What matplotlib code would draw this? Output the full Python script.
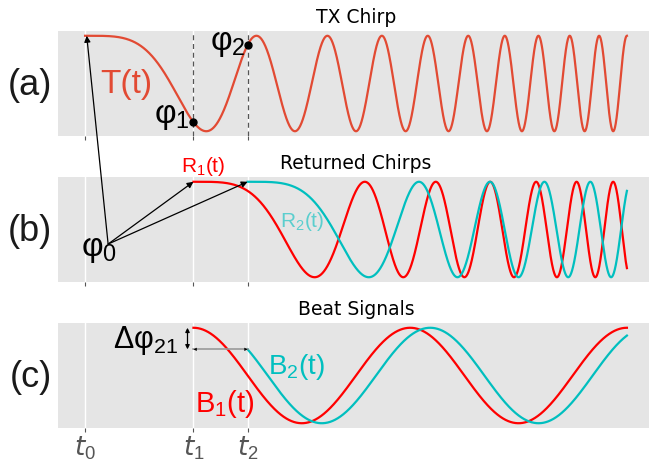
import numpy as np
import matplotlib
matplotlib.use("Agg")
import matplotlib.pyplot as plt

# time marks and their labels
T_MARKS = [0.0, 0.2, 0.3]
T_LABELS = [r"$t_0$", r"$t_1$", r"$t_2$"]
T_END = 1.0

# chirp: instantaneous frequency rises linearly, phase = pi * rate * t^2
CHIRP_RATE = 20.0
# beat signals
BEAT_FREQ = 2.5
BEAT2_LAG = 0.58  # rad, phase offset of B2 relative to B1

PANEL_TITLES = ["TX Chirp", "Returned Chirps", "Beat Signals"]
PANEL_TAGS = ["(a)", "(b)", "(c)"]

TX_COLOR = "#E24A33"
R1_COLOR = "red"
R2_COLOR = "c"
BG = "#E5E5E5"
GREY = "#555555"
ANNOT_FONT = "Liberation Sans"

plt.rcParams["mathtext.fontset"] = "custom"
plt.rcParams["mathtext.rm"] = "Liberation Sans"
plt.rcParams["mathtext.it"] = "DejaVu Sans:italic"
plt.rcParams["mathtext.bf"] = "Liberation Sans:bold"

t0, t1, t2 = T_MARKS


def chirp(t, start):
    return np.cos(np.pi * CHIRP_RATE * (t - start) ** 2)


def beat(t, lag=0.0):
    return np.cos(2 * np.pi * BEAT_FREQ * (t - t1) - lag)


fig = plt.figure(figsize=(6.49, 4.70), dpi=100)
W, H = 649.0, 470.0
left, right = 58 / W, 654 / W
tops = [31, 177, 323]
ph = 105
axes = []
for top in tops:
    ax = fig.add_axes([left, 1 - (top + ph) / H, right - left, ph / H])
    ax.set_facecolor(BG)
    for s in ax.spines.values():
        s.set_visible(False)
    ax.set_xlim(-0.05, 1.05)
    ax.set_ylim(-1.1, 1.1)
    ax.set_xticks(T_MARKS)
    ax.set_xticklabels([])
    ax.set_yticks([])
    ax.tick_params(axis="x", length=3, color=GREY, width=0.8)
    ax.grid(True, axis="x", color="white", lw=1.0)
    ax.set_axisbelow(True)
    axes.append(ax)
ax_a, ax_b, ax_c = axes

for ax, title, tag in zip(axes, PANEL_TITLES, PANEL_TAGS):
    ax.set_title(title, fontsize=13.5, pad=6)
    ax.text(-0.01, 0.48, tag, transform=ax.transAxes, ha="right", va="center",
            fontsize=26, family=ANNOT_FONT, color="#1a1a1a")

ax_c.set_xticklabels(T_LABELS, fontsize=19, color=GREY)
ax_c.tick_params(axis="x", pad=2)

# (a) TX chirp
ta = np.linspace(t0, T_END, 3000)
ax_a.plot(ta, chirp(ta, t0), color=TX_COLOR, lw=1.6)
for tm in (t1, t2):
    ax_a.axvline(tm, color=GREY, lw=0.9, ls=(0, (4, 3)))
ax_a.plot([t1, t2], [chirp(t1, t0), chirp(t2, t0)], "o", color="black", ms=5, zorder=5)
ax_a.text(0.076, -0.02, "T(t)", color=TX_COLOR, fontsize=24, family=ANNOT_FONT,
          ha="center", va="center")
ax_a.text(t1 - 0.006, chirp(t1, t0) + 0.12, r"φ$_1$", fontsize=24, family=ANNOT_FONT,
          ha="right", va="center")
ax_a.text(t2 - 0.004, chirp(t2, t0) + 0.02, r"φ$_2$", fontsize=24, family=ANNOT_FONT,
          ha="right", va="center")

# (b) returned chirps
tb1 = np.linspace(t1, T_END, 3000)
tb2 = np.linspace(t2, T_END, 3000)
ax_b.plot(tb1, chirp(tb1, t1), color=R1_COLOR, lw=1.6)
ax_b.plot(tb2, chirp(tb2, t2), color=R2_COLOR, lw=1.6)
ax_b.text(0.218, 1.31, r"R$_1$(t)", color=R1_COLOR, fontsize=15, family=ANNOT_FONT,
          ha="center", va="center")
ax_b.text(0.401, 0.16, r"R$_2$(t)", color=R2_COLOR, alpha=0.6, fontsize=15,
          family=ANNOT_FONT, ha="center", va="center")
ax_b.text(0.026, -0.42, r"φ$_0$", fontsize=24, family=ANNOT_FONT,
          ha="center", va="center")

origin = (0.0425, -0.305)
arrow = dict(arrowstyle="-|>", color="black", lw=0.9, mutation_scale=9,
             shrinkA=0, shrinkB=0)
ax_b.annotate("", xy=(t0 + 0.003, 1.0), xycoords=ax_a.transData, xytext=origin,
              textcoords=ax_b.transData, arrowprops=arrow, annotation_clip=False)
for tm in (t1, t2):
    ax_b.annotate("", xy=(tm, 1.0), xytext=origin, arrowprops=arrow,
                  annotation_clip=False)

# (c) beat signals
tc1 = np.linspace(t1, T_END, 2000)
tc2 = np.linspace(t2, T_END, 2000)
ax_c.plot(tc1, beat(tc1), color=R1_COLOR, lw=1.6)
ax_c.plot(tc2, beat(tc2, BEAT2_LAG), color=R2_COLOR, lw=1.6)
b2_start = beat(t2, BEAT2_LAG)
# time-offset arrow: grey shaft, black heads
ax_c.plot([t1, t2], [b2_start, b2_start], color="#9a9a9a", lw=1.2)
ax_c.annotate("", xy=(t1, b2_start), xytext=(t2, b2_start),
              arrowprops=dict(arrowstyle="<|-|>", color="black", lw=0,
                              mutation_scale=6, shrinkA=0, shrinkB=0))
ax_c.annotate("", xy=(0.189, 1.0), xytext=(0.189, b2_start),
              arrowprops=dict(arrowstyle="<|-|>", color="black", lw=0.9,
                              mutation_scale=6, shrinkA=0, shrinkB=0))
ax_c.text(0.172, 0.74, r"Δφ$_{21}$", fontsize=22, family=ANNOT_FONT,
          ha="right", va="center")
ax_c.text(0.39, 0.18, r"B$_2$(t)", color=R2_COLOR, fontsize=20, family=ANNOT_FONT,
          ha="center", va="center")
ax_c.text(0.257, -0.60, r"B$_1$(t)", color=R1_COLOR, fontsize=21, family=ANNOT_FONT,
          ha="center", va="center")

fig.savefig("out.png", dpi=100, facecolor="white")
